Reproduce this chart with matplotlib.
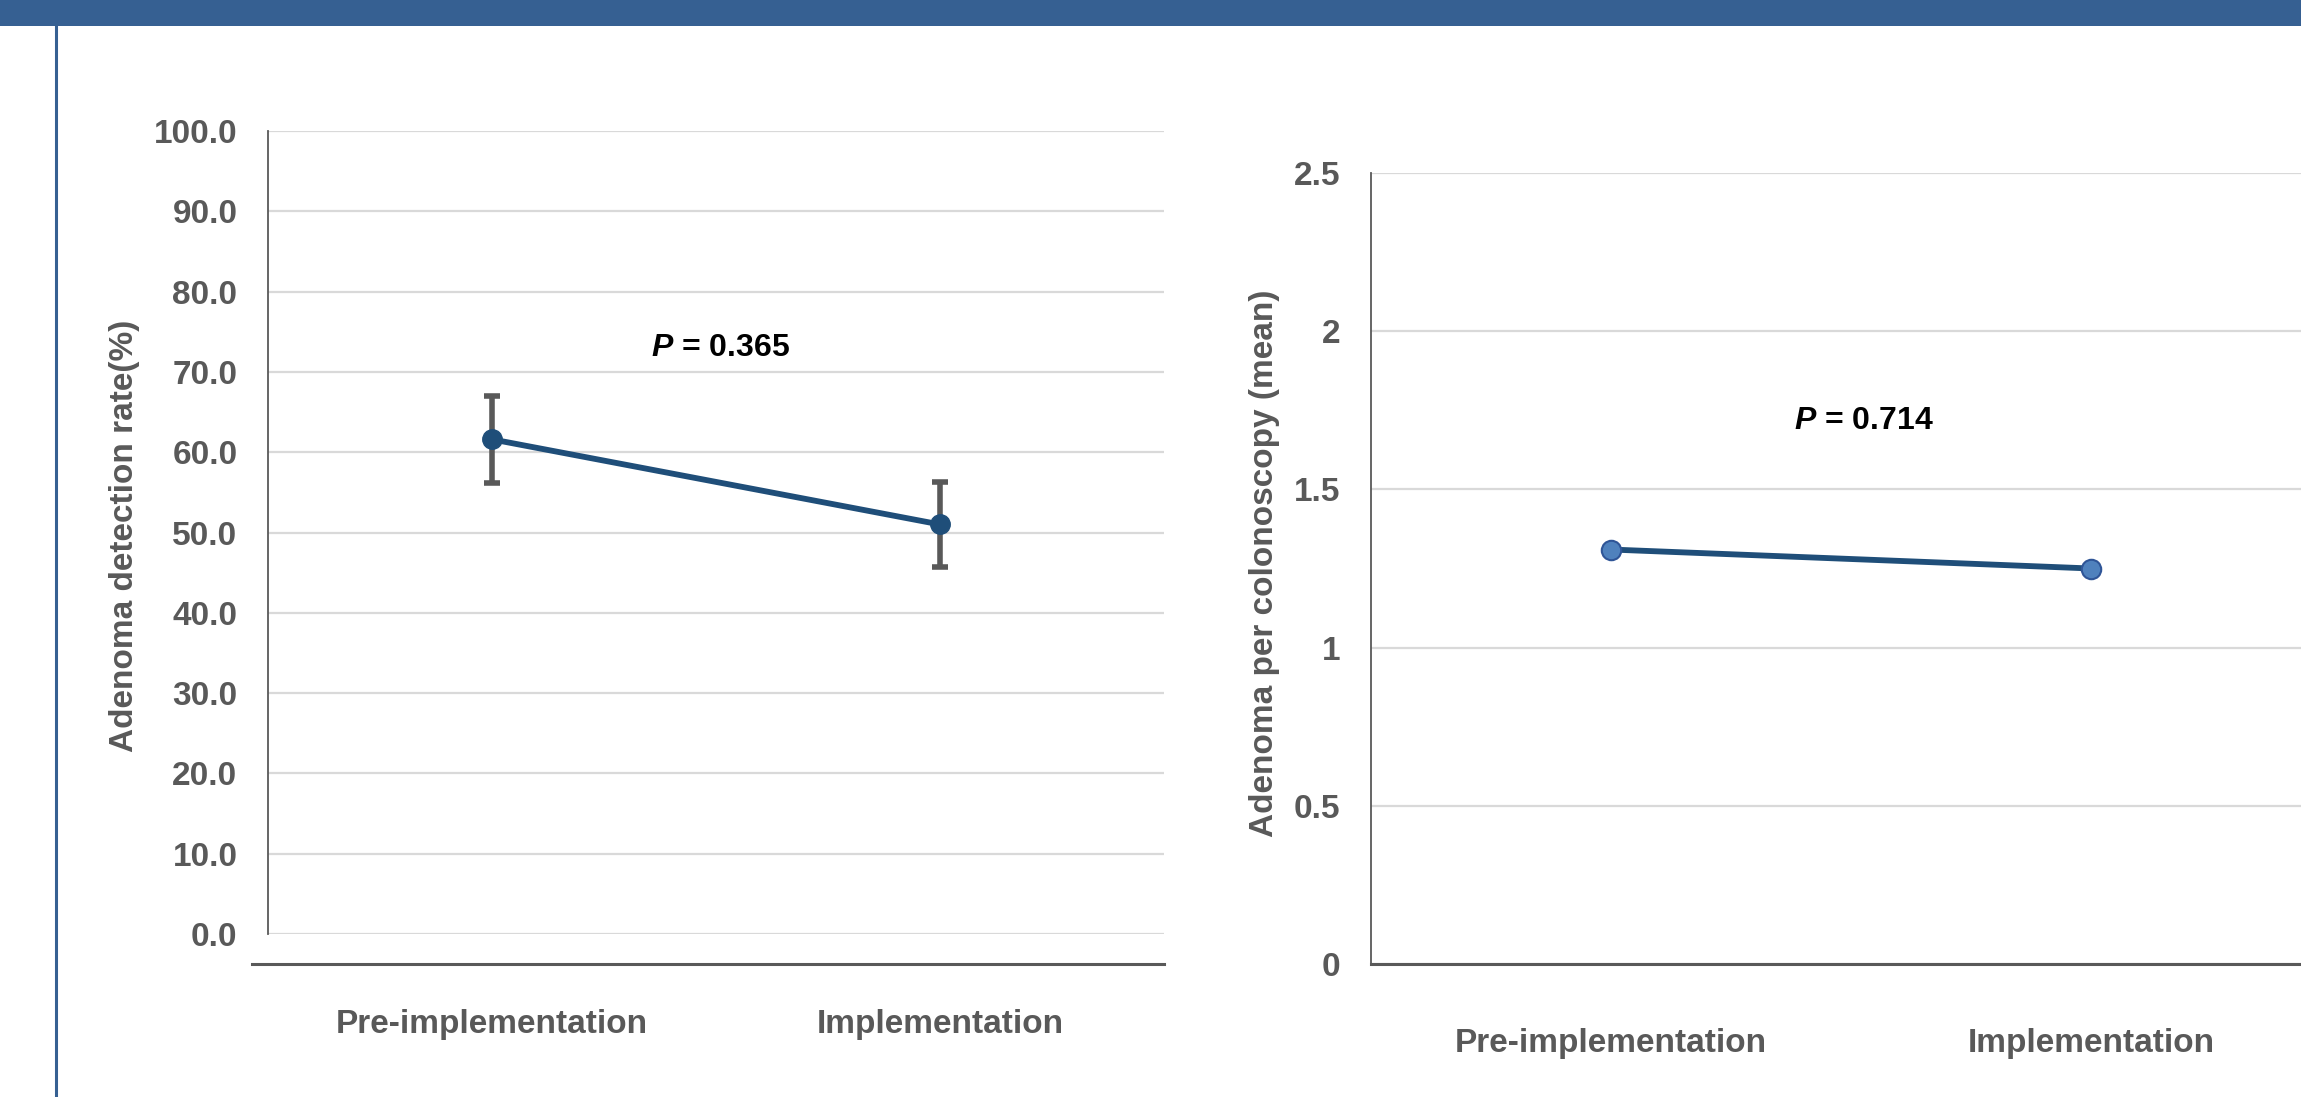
import matplotlib
matplotlib.use("Agg")
import matplotlib.pyplot as plt
from matplotlib.lines import Line2D
from matplotlib.patches import Rectangle

plt.rcParams['font.family'] = ['Liberation Sans', 'DejaVu Sans']
plt.rcParams['mathtext.fontset'] = 'custom'
plt.rcParams['mathtext.it'] = 'Liberation Sans:italic:bold'
plt.rcParams['mathtext.rm'] = 'Liberation Sans:bold'

# data
categories = ["Pre-implementation", "Implementation"]
adr_mean = [61.6, 51.0]          # adenoma detection rate (%)
adr_err = [5.4, 5.3]
apc_mean = [1.31, 1.25]          # adenoma per colonoscopy (mean)
adr_ticks = [0, 10, 20, 30, 40, 50, 60, 70, 80, 90, 100]
apc_ticks = [0, 0.5, 1, 1.5, 2, 2.5]
apc_ticklabels = ["0", "0.5", "1", "1.5", "2", "2.5"]
p_left = "0.365"
p_right = "0.714"

GREY = "#595959"
GRID = "#d9d9d9"
NAVY = "#1f4e79"
BANNER = "#366092"

W, H = 2301, 1097
fig = plt.figure(figsize=(W / 100, H / 100), dpi=100)


def fx(px):
    return px / W


def fy(py):
    return 1 - py / H


# banner and left frame line
fig.add_artist(Rectangle((0, fy(26)), 1, 26 / H, transform=fig.transFigure,
                         color=BANNER, lw=0))
fig.add_artist(Line2D([fx(56), fx(56)], [0, fy(26)], transform=fig.transFigure,
                      color=BANNER, lw=2.2))


def style_axes(ax, ticks, ticklabels, xpad):
    ax.set_xlim(-0.5, 1.5)
    ax.set_yticks(ticks)
    ax.set_yticklabels(ticklabels)
    ax.set_xticks(range(len(categories)))
    ax.set_xticklabels(categories)
    ax.grid(axis="y", color=GRID, lw=1.6)
    ax.set_axisbelow(True)
    for s in ["top", "right", "bottom"]:
        ax.spines[s].set_visible(False)
    ax.spines["left"].set_color(GREY)
    ax.spines["left"].set_linewidth(1.3)
    ax.tick_params(axis="y", length=0, pad=22, labelsize=24, labelcolor=GREY)
    ax.tick_params(axis="x", length=0, pad=xpad, labelsize=24, labelcolor=GREY)
    for lab in ax.get_xticklabels() + ax.get_yticklabels():
        lab.set_fontweight("bold")


# left chart: adenoma detection rate
ax1 = fig.add_axes([fx(268), fy(934), fx(1164 - 268), (934 - 131) / H])
ax1.set_ylim(0, 100)
style_axes(ax1, adr_ticks, [f"{t:.1f}" for t in adr_ticks], 54)
ax1.errorbar(range(len(categories)), adr_mean, yerr=adr_err, fmt="none",
             ecolor=GREY, elinewidth=4, capsize=6, capthick=4, zorder=3)
ax1.plot(range(len(categories)), adr_mean, color=NAVY, lw=4.2, marker="o",
         ms=14, mfc=NAVY, mec=NAVY, zorder=4)
ax1.text(0.509, 73.0, r"$\mathit{P}$ = " + p_left, ha="center", va="center",
         fontsize=23, fontweight="bold", color="black")
fig.add_artist(Line2D([fx(252), fx(1164)], [fy(964), fy(964)],
                      transform=fig.transFigure, color=GREY, lw=2.2))
fig.text(fx(125), fy(536), "Adenoma detection rate(%)", rotation=90,
         ha="center", va="center", fontsize=24, fontweight="bold", color=GREY)

# right chart: adenoma per colonoscopy
ax2 = fig.add_axes([fx(1371), fy(964), fx(960), (964 - 173) / H])
ax2.set_ylim(0, 2.5)
style_axes(ax2, apc_ticks, apc_ticklabels, 46)
ax2.spines["bottom"].set_visible(True)
ax2.spines["bottom"].set_color(GREY)
ax2.spines["bottom"].set_linewidth(2.2)
ax2.plot(range(len(categories)), apc_mean, color=NAVY, lw=4.2, marker="o",
         ms=14, mfc="#4f81bd", mec="#2f5597", mew=1.5, zorder=4)
ax2.text(0.527, 1.716, r"$\mathit{P}$ = " + p_right, ha="center", va="center",
         fontsize=23, fontweight="bold", color="black")
fig.text(fx(1265), fy(563), "Adenoma per colonoscopy (mean)", rotation=90,
         ha="center", va="center", fontsize=24, fontweight="bold", color=GREY)

fig.savefig("out.png", dpi=100, facecolor="white")
